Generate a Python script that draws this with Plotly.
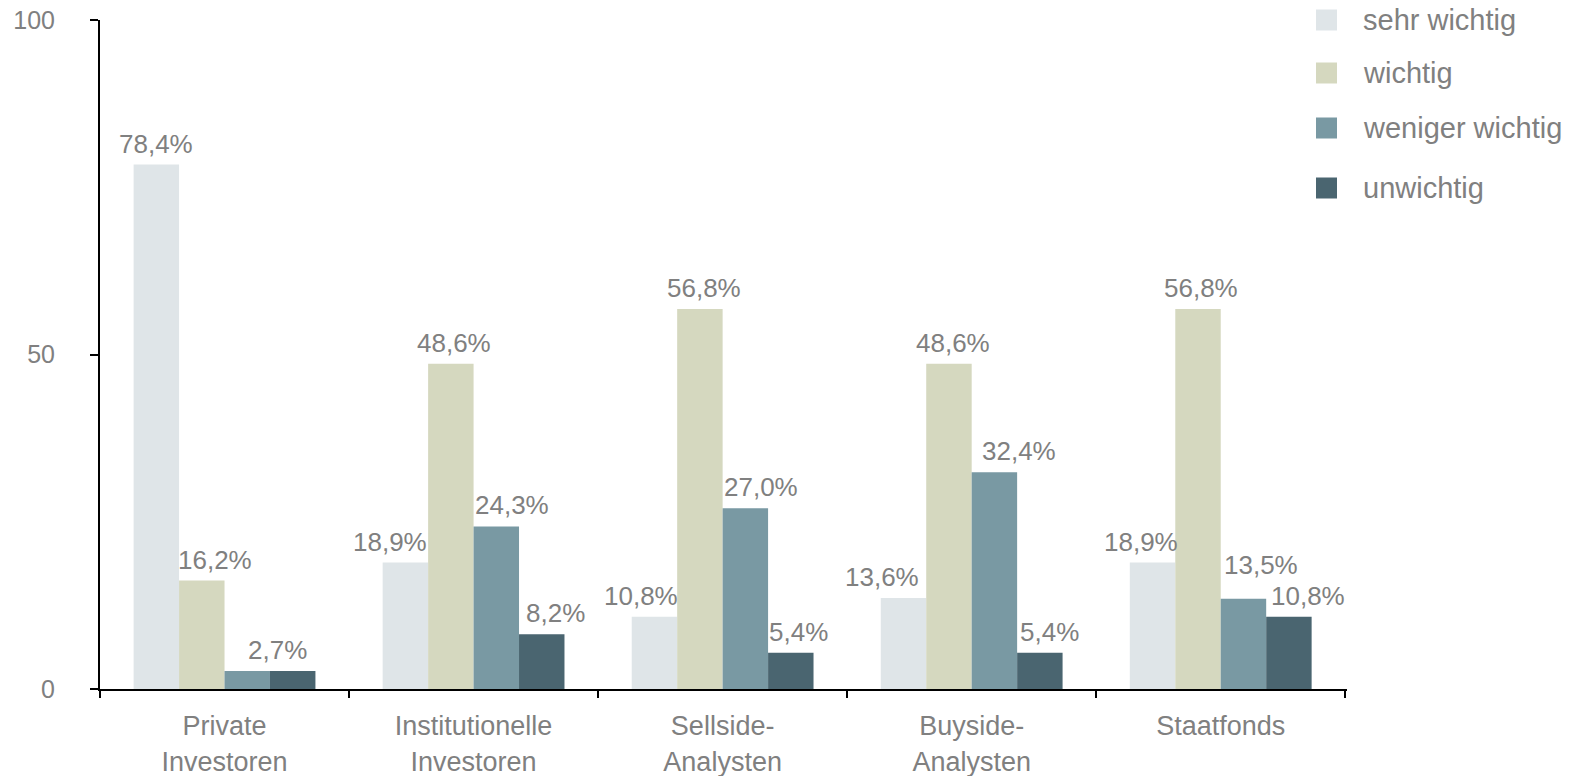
import plotly.graph_objects as go

# Survey categories (two-line axis labels)
categories = ["Private<br>Investoren", "Institutionelle<br>Investoren", "Sellside-<br>Analysten",
              "Buyside-<br>Analysten", "Staatfonds"]

# Share of answers per importance level, in percent
series_names = ["sehr wichtig", "wichtig", "weniger wichtig", "unwichtig"]
sehr_wichtig = [78.4, 18.9, 10.8, 13.6, 18.9]
wichtig = [16.2, 48.6, 56.8, 48.6, 56.8]
weniger_wichtig = [2.7, 24.3, 27.0, 32.4, 13.5]
unwichtig = [2.7, 8.2, 5.4, 5.4, 10.8]
series_values = [sehr_wichtig, wichtig, weniger_wichtig, unwichtig]

# Which value labels are printed (the two equal 2.7 bars share one label)
show_label = [
    [True, True, True, True, True],
    [True, True, True, True, True],
    [True, True, True, True, True],
    [False, True, True, True, True],
]

# Label nudges in pixels (horizontal, extra vertical) so neighbouring labels don't collide
label_dx = [
    [0, -15, -13, -21, -11],
    [13, 3, 4, 4, 3],
    [30, 16, 16, 25, 18],
    [0, 14, 8, 10, 19],
]
label_dy = [
    [0, 0, 0, 0, 0],
    [0, 0, 0, 0, 0],
    [0, 0, 0, 0, 13],
    [0, 0, 0, 0, 0],
]

colors = ["#DFE5E8", "#D5D8BF", "#7999A3", "#4A6570"]
grey = "#808080"
font_family = "Liberation Sans, Arial, sans-serif"

W, H = 1569, 776
M_L, M_R, M_T, M_B = 100, 222, 20, 87
plot_w = W - M_L - M_R
plot_h = H - M_T - M_B
BARGAP = 0.27
n_cat = len(categories)
n_ser = len(series_names)
bar_px = plot_w / n_cat * (1 - BARGAP) / n_ser


def fmt(v):
    return f"{v:.1f}".replace(".", ",") + "%"


fig = go.Figure()
for si, (name, vals, col) in enumerate(zip(series_names, series_values, colors)):
    fig.add_trace(go.Bar(
        x=categories,
        y=vals,
        name=name,
        marker=dict(color=col, line=dict(width=0)),
        showlegend=False,
    ))
    # value labels above each bar
    for ci, (cat, v) in enumerate(zip(categories, vals)):
        if not show_label[si][ci]:
            continue
        fig.add_annotation(
            x=cat, y=v, xref="x", yref="y",
            text=fmt(v), showarrow=False,
            xanchor="center", yanchor="bottom",
            xshift=(si - (n_ser - 1) / 2) * bar_px + label_dx[si][ci],
            yshift=4 + label_dy[si][ci],
            font=dict(size=26, color=grey, family=font_family),
        )

# Legend drawn as coloured squares with labels to the right of the plot
legend_y_px = [20, 73, 128, 188]
sq = 21
sq_left_px = 1316
text_left_px = 1361
for name, col, ypx in zip(series_names, colors, legend_y_px):
    x0 = (sq_left_px - M_L) / plot_w
    x1 = (sq_left_px + sq - M_L) / plot_w
    y0 = (H - M_B - (ypx + sq / 2)) / plot_h
    y1 = (H - M_B - (ypx - sq / 2)) / plot_h
    fig.add_shape(type="rect", xref="paper", yref="paper", x0=x0, x1=x1, y0=y0, y1=y1,
                  fillcolor=col, line=dict(width=0))
    fig.add_annotation(xref="paper", yref="paper",
                       x=(text_left_px - M_L) / plot_w, y=(H - M_B - ypx) / plot_h,
                       text=name, showarrow=False, xanchor="left", yanchor="middle",
                       font=dict(size=29, color=grey, family=font_family))

fig.update_layout(
    width=W, height=H,
    margin=dict(l=M_L, r=M_R, t=M_T, b=M_B, autoexpand=False),
    paper_bgcolor="white", plot_bgcolor="white",
    barmode="group", bargap=BARGAP, bargroupgap=0,
    font=dict(family=font_family, color=grey),
    showlegend=False,
)
fig.update_xaxes(
    type="category", automargin=False,
    showline=True, linecolor="black", linewidth=2,
    ticks="outside", tickson="boundaries", ticklen=7, tickwidth=2, tickcolor="black",
    tickfont=dict(size=27, color=grey, family=font_family),
    ticklabelstandoff=12,
    showgrid=False, zeroline=False,
)
fig.update_yaxes(
    range=[0, 100], automargin=False,
    tickvals=[0, 50, 100],
    showline=True, linecolor="black", linewidth=2,
    ticks="outside", ticklen=8, tickwidth=2, tickcolor="black",
    tickfont=dict(size=25, color=grey, family=font_family),
    ticklabelstandoff=30,
    showgrid=False, zeroline=False,
)

fig.write_html("out.html")
